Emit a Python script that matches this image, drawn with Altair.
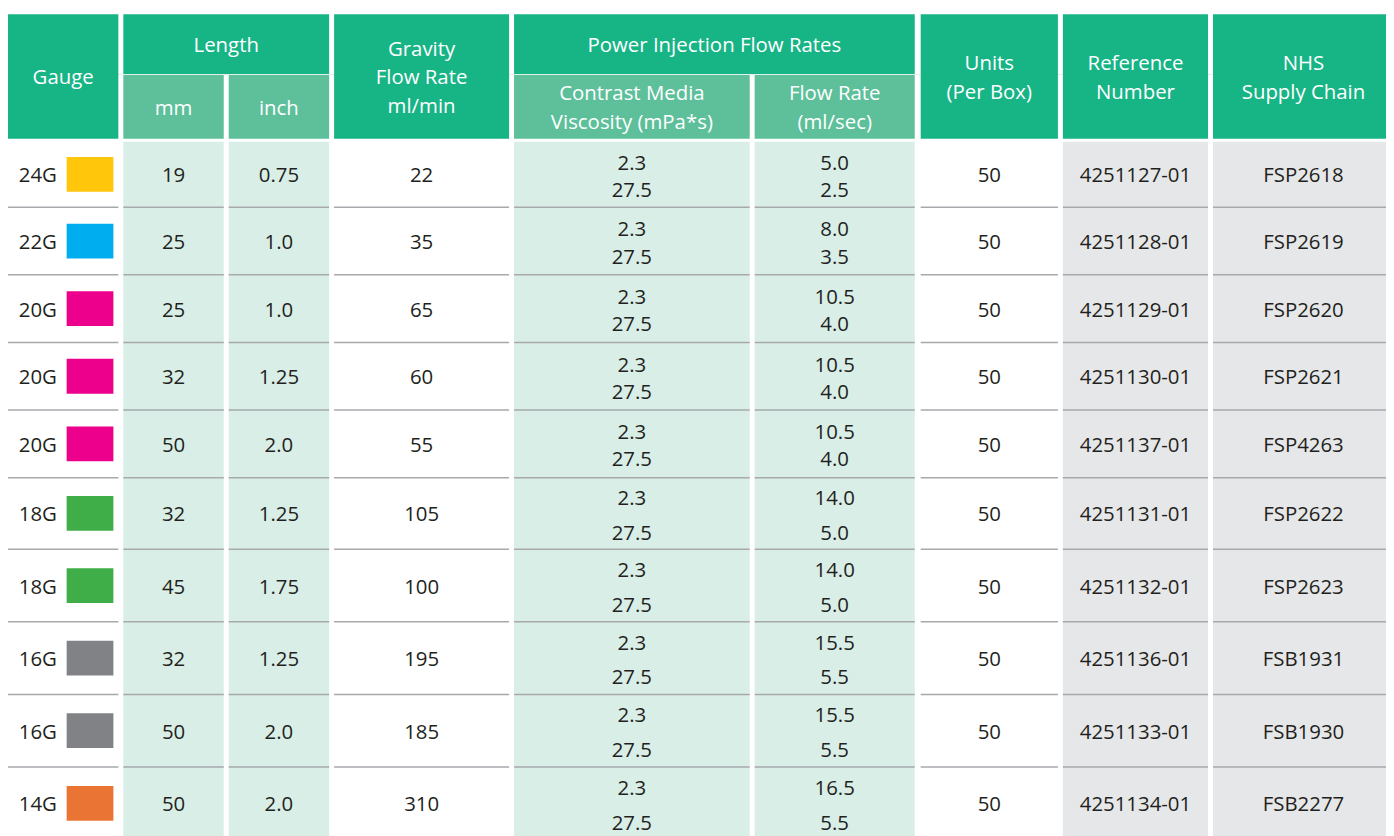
import altair as alt
import pandas as pd

# ---------------- data ----------------
gauge = ["24G", "22G", "20G", "20G", "20G", "18G", "18G", "16G", "16G", "14G"]
gauge_color = ["#FFC60B", "#00AEEF", "#EC008C", "#EC008C", "#EC008C",
               "#3FAE49", "#3FAE49", "#808285", "#808285", "#E97434"]
length_mm = [19, 25, 25, 32, 50, 32, 45, 32, 50, 50]
length_inch = [0.75, 1.0, 1.0, 1.25, 2.0, 1.25, 1.75, 1.25, 2.0, 2.0]
gravity_flow = [22, 35, 65, 60, 55, 105, 100, 195, 185, 310]
viscosity_low = [2.3] * 10
viscosity_high = [27.5] * 10
flow_at_low_visc = [5.0, 8.0, 10.5, 10.5, 10.5, 14.0, 14.0, 15.5, 15.5, 16.5]
flow_at_high_visc = [2.5, 3.5, 4.0, 4.0, 4.0, 5.0, 5.0, 5.5, 5.5, 5.5]
units_per_box = [50] * 10
reference_number = ["4251127-01", "4251128-01", "4251129-01", "4251130-01", "4251137-01",
                    "4251131-01", "4251132-01", "4251136-01", "4251133-01", "4251134-01"]
nhs_code = ["FSP2618", "FSP2619", "FSP2620", "FSP2621", "FSP4263",
            "FSP2622", "FSP2623", "FSB1931", "FSB1930", "FSB2277"]

# ---------------- layout / style ----------------
GREEN = "#17B486"
SUBGREEN = "#5DC09B"
LIGHT = "#D8EEE6"
GREY = "#E6E7E8"
WHITE = "#FFFFFF"
INK = "#231F20"
LINE = "#A7A9AC"
FONT = "Open Sans"
FS = 20.5

# column boxes (left, right, body fill)
COLS = {
    "gauge": (8, 119, WHITE),
    "mm": (124, 225, LIGHT),
    "inch": (230, 331, LIGHT),
    "gravity": (336, 512, WHITE),
    "visc": (517, 754, LIGHT),
    "flow": (759, 920, LIGHT),
    "units": (926, 1064, WHITE),
    "ref": (1069, 1215, GREY),
    "nhs": (1220, 1394, GREY),
}
HEAD_TOP, HEAD_MID, SUB_TOP, HEAD_BOT, BODY_TOP = 12, 72, 73, 137, 140
ROW_EDGES = [140, 206, 274, 342, 410, 478, 550, 623, 696, 769, 842]
HALF_GAP = [13.7] * 5 + [17.5] * 5
GAUGE_LABEL_X = 38
SWATCH = (67, 114, 17.5)
NHS_TEXT_X = 1311
HEAD_LH = 29


def fmt1(v):
    return f"{v:.1f}"


def fmt_inch(v):
    s = f"{v:g}"
    return s if "." in s else s + ".0"


def cx(key):
    l, r, _ = COLS[key]
    return (l + r) / 2


# header cells
header_cells = [
    (COLS["gauge"][0], COLS["gauge"][1], HEAD_TOP, HEAD_BOT, GREEN, ["Gauge"]),
    (COLS["mm"][0], COLS["inch"][1], HEAD_TOP, HEAD_MID, GREEN, ["Length"]),
    (COLS["mm"][0], COLS["mm"][1], SUB_TOP, HEAD_BOT, SUBGREEN, ["mm"]),
    (COLS["inch"][0], COLS["inch"][1], SUB_TOP, HEAD_BOT, SUBGREEN, ["inch"]),
    (COLS["gravity"][0], COLS["gravity"][1], HEAD_TOP, HEAD_BOT, GREEN, ["Gravity", "Flow Rate", "ml/min"]),
    (COLS["visc"][0], COLS["flow"][1], HEAD_TOP, HEAD_MID, GREEN, ["Power Injection Flow Rates"]),
    (COLS["visc"][0], COLS["visc"][1], SUB_TOP, HEAD_BOT, SUBGREEN, ["Contrast Media", "Viscosity (mPa*s)"]),
    (COLS["flow"][0], COLS["flow"][1], SUB_TOP, HEAD_BOT, SUBGREEN, ["Flow Rate", "(ml/sec)"]),
    (COLS["units"][0], COLS["units"][1], HEAD_TOP, HEAD_BOT, GREEN, ["Units", "(Per Box)"]),
    (COLS["ref"][0], COLS["ref"][1], HEAD_TOP, HEAD_BOT, GREEN, ["Reference", "Number"]),
    (COLS["nhs"][0], COLS["nhs"][1], HEAD_TOP, HEAD_BOT, GREEN, ["NHS", "Supply Chain"]),
]

head_rects = pd.DataFrame([dict(x=l, x2=r, y=t, y2=b, fill=f) for l, r, t, b, f, _ in header_cells])
head_text_rows = []
for l, r, t, b, f, lines in header_cells:
    n = len(lines)
    mid = (t + b) / 2
    x = (l + r) / 2
    if lines[0] == "NHS":
        x = NHS_TEXT_X
    for i, s in enumerate(lines):
        head_text_rows.append(dict(x=x, y=mid + (i - (n - 1) / 2) * HEAD_LH, text=s))
head_text = pd.DataFrame(head_text_rows)

body_rects = pd.DataFrame([dict(x=l, x2=r, y=BODY_TOP, y2=ROW_EDGES[-1], fill=f)
                           for (l, r, f) in COLS.values()])

rule_rows = []
for e in ROW_EDGES[1:-1]:
    for (l, r, f) in COLS.values():
        rule_rows.append(dict(x=l, x2=r, y=e))
rules = pd.DataFrame(rule_rows)

swatch_rows, body_text_rows = [], []
for i in range(len(gauge)):
    top, bot = ROW_EDGES[i], ROW_EDGES[i + 1]
    mid = (top + bot) / 2
    swatch_rows.append(dict(x=SWATCH[0], x2=SWATCH[1], y=mid - SWATCH[2], y2=mid + SWATCH[2],
                            fill=gauge_color[i]))
    singles = [
        (GAUGE_LABEL_X, gauge[i]),
        (cx("mm"), str(length_mm[i])),
        (cx("inch"), fmt_inch(length_inch[i])),
        (cx("gravity"), str(gravity_flow[i])),
        (cx("units"), str(units_per_box[i])),
        (cx("ref"), reference_number[i]),
        (NHS_TEXT_X, nhs_code[i]),
    ]
    for x, s in singles:
        body_text_rows.append(dict(x=x, y=mid, text=s))
    g = HALF_GAP[i]
    pairs = [
        (cx("visc"), fmt1(viscosity_low[i]), fmt1(viscosity_high[i])),
        (cx("flow"), fmt1(flow_at_low_visc[i]), fmt1(flow_at_high_visc[i])),
    ]
    for x, a, b in pairs:
        body_text_rows.append(dict(x=x, y=mid + 1 - g, text=a))
        body_text_rows.append(dict(x=x, y=mid + 1 + g, text=b))
swatches = pd.DataFrame(swatch_rows)
body_text = pd.DataFrame(body_text_rows)

# ---------------- chart ----------------
XS = alt.Scale(domain=[8, 1394], nice=False, zero=False)
YS = alt.Scale(domain=[8, 836], nice=False, zero=False, reverse=True)


def X():
    return alt.X("x:Q", scale=XS, axis=None)


def Y():
    return alt.Y("y:Q", scale=YS, axis=None)


sep = alt.Chart(pd.DataFrame([dict(x=8, x2=1394, y=72.5)])).mark_rule(
    strokeWidth=1, color="#DDF1E9").encode(x=X(), x2="x2:Q", y=Y())

hrect = alt.Chart(head_rects).mark_rect().encode(
    x=X(), x2="x2:Q", y=Y(), y2="y2:Q", color=alt.Color("fill:N", scale=None))

brect = alt.Chart(body_rects).mark_rect().encode(
    x=X(), x2="x2:Q", y=Y(), y2="y2:Q", color=alt.Color("fill:N", scale=None))

rrule = alt.Chart(rules).mark_rule(strokeWidth=1.5, color=LINE).encode(
    x=X(), x2="x2:Q", y=Y())

sw = alt.Chart(swatches).mark_rect().encode(
    x=X(), x2="x2:Q", y=Y(), y2="y2:Q", color=alt.Color("fill:N", scale=None))

htext = alt.Chart(head_text).mark_text(
    font=FONT, fontSize=FS, color=WHITE, align="center", baseline="middle", dy=2
).encode(x=X(), y=Y(), text="text:N")

btext = alt.Chart(body_text).mark_text(
    font=FONT, fontSize=FS, color=INK, align="center", baseline="middle", dy=2
).encode(x=X(), y=Y(), text="text:N")

chart = alt.layer(sep, hrect, brect, rrule, sw, htext, btext).properties(
    width=1386, height=828, padding=0,
    autosize=alt.AutoSizeParams(type="none"),
    background=WHITE,
).configure_view(stroke=None)

chart.save("out.html", embed_options={"renderer": "svg", "actions": False})
